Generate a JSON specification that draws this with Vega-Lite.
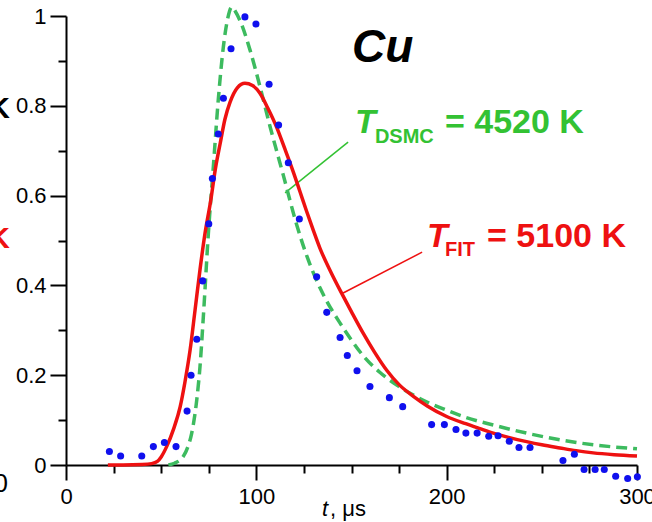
{
  "$schema": "https://vega.github.io/schema/vega-lite/v6.json",
  "autosize": {"type": "none"},
  "padding": {"left": 66, "top": 16, "right": 15, "bottom": 57},
  "width": 571,
  "height": 449,
  "background": "white",
  "config": {
    "view": {"stroke": null},
    "font": "Liberation Sans",
    "axis": {
      "grid": false,
      "domainColor": "black",
      "domainWidth": 2,
      "tickColor": "black",
      "tickWidth": 2,
      "labelColor": "black",
      "labelFont": "Liberation Sans",
      "labelFontSize": 22,
      "title": null
    }
  },
  "datasets": {
    "pts": [
      {"t": 22.8, "v": 0.030}, {"t": 28.7, "v": 0.020}, {"t": 39.8, "v": 0.020}, {"t": 45.9, "v": 0.041},
      {"t": 51.7, "v": 0.050}, {"t": 57.8, "v": 0.041}, {"t": 63.6, "v": 0.120}, {"t": 65.7, "v": 0.200},
      {"t": 68.7, "v": 0.280}, {"t": 71.8, "v": 0.410}, {"t": 75.0, "v": 0.537}, {"t": 76.9, "v": 0.638},
      {"t": 80.0, "v": 0.737}, {"t": 82.7, "v": 0.817}, {"t": 86.7, "v": 0.927}, {"t": 94.0, "v": 0.998},
      {"t": 99.8, "v": 0.982}, {"t": 106.7, "v": 0.848}, {"t": 111.7, "v": 0.757}, {"t": 116.8, "v": 0.673},
      {"t": 122.6, "v": 0.548}, {"t": 131.7, "v": 0.419}, {"t": 137.0, "v": 0.340}, {"t": 144.0, "v": 0.284},
      {"t": 147.8, "v": 0.244}, {"t": 152.9, "v": 0.210}, {"t": 159.7, "v": 0.175}, {"t": 169.9, "v": 0.150},
      {"t": 176.9, "v": 0.130}, {"t": 192.1, "v": 0.090}, {"t": 198.8, "v": 0.090}, {"t": 204.9, "v": 0.079},
      {"t": 210.1, "v": 0.071}, {"t": 216.0, "v": 0.071}, {"t": 222.1, "v": 0.064}, {"t": 227.0, "v": 0.065},
      {"t": 232.9, "v": 0.053}, {"t": 238.0, "v": 0.039}, {"t": 243.8, "v": 0.039}, {"t": 261.1, "v": 0.010},
      {"t": 267.1, "v": 0.024}, {"t": 272.2, "v": -0.010}, {"t": 278.0, "v": -0.010}, {"t": 282.8, "v": -0.010},
      {"t": 288.8, "v": -0.025}, {"t": 295.1, "v": -0.030}, {"t": 300.2, "v": -0.026}
    ],
    "fit": [
      {"t": 22, "v": 0}, {"t": 30, "v": 0}, {"t": 40, "v": 0.001}, {"t": 45, "v": 0.003}, {"t": 48, "v": 0.008},
      {"t": 50, "v": 0.018}, {"t": 53, "v": 0.042}, {"t": 56.5, "v": 0.08}, {"t": 60, "v": 0.13},
      {"t": 62.5, "v": 0.185}, {"t": 65.2, "v": 0.256}, {"t": 67.8, "v": 0.345}, {"t": 70.4, "v": 0.435},
      {"t": 73, "v": 0.515}, {"t": 76, "v": 0.588}, {"t": 78.5, "v": 0.66}, {"t": 81, "v": 0.716},
      {"t": 83.5, "v": 0.77}, {"t": 86.2, "v": 0.808}, {"t": 90, "v": 0.84}, {"t": 94, "v": 0.85},
      {"t": 98, "v": 0.845}, {"t": 101.9, "v": 0.828}, {"t": 106, "v": 0.795}, {"t": 110.7, "v": 0.752},
      {"t": 115, "v": 0.704}, {"t": 119.4, "v": 0.653}, {"t": 123, "v": 0.608}, {"t": 126.5, "v": 0.564},
      {"t": 130, "v": 0.522}, {"t": 133.5, "v": 0.482}, {"t": 139, "v": 0.431}, {"t": 145, "v": 0.381},
      {"t": 150, "v": 0.341}, {"t": 156.2, "v": 0.293}, {"t": 162, "v": 0.252}, {"t": 168.5, "v": 0.211},
      {"t": 175, "v": 0.179}, {"t": 182.5, "v": 0.153}, {"t": 190, "v": 0.131}, {"t": 200, "v": 0.108},
      {"t": 210, "v": 0.092}, {"t": 217.5, "v": 0.081}, {"t": 224.5, "v": 0.071}, {"t": 233, "v": 0.061},
      {"t": 242, "v": 0.052}, {"t": 250, "v": 0.045}, {"t": 259.5, "v": 0.038}, {"t": 268, "v": 0.032},
      {"t": 277, "v": 0.027}, {"t": 288, "v": 0.023}, {"t": 300, "v": 0.02}
    ],
    "dsmc": [
      {"t": 53.8, "v": 0}, {"t": 57, "v": 0.004}, {"t": 61.6, "v": 0.019}, {"t": 64, "v": 0.04},
      {"t": 66, "v": 0.07}, {"t": 68.7, "v": 0.145}, {"t": 70.4, "v": 0.219}, {"t": 72.3, "v": 0.34},
      {"t": 74.8, "v": 0.516}, {"t": 77.4, "v": 0.664}, {"t": 80, "v": 0.813}, {"t": 82.7, "v": 0.932},
      {"t": 85, "v": 0.995}, {"t": 87.1, "v": 1.02}, {"t": 89, "v": 1.01}, {"t": 91.4, "v": 0.99},
      {"t": 96.7, "v": 0.924}, {"t": 101.9, "v": 0.843}, {"t": 107.2, "v": 0.754}, {"t": 114.2, "v": 0.645},
      {"t": 121.2, "v": 0.535}, {"t": 127, "v": 0.46}, {"t": 133.5, "v": 0.394}, {"t": 139, "v": 0.35},
      {"t": 144, "v": 0.316}, {"t": 150, "v": 0.278}, {"t": 156.2, "v": 0.243}, {"t": 165, "v": 0.206},
      {"t": 173.8, "v": 0.178}, {"t": 182, "v": 0.157}, {"t": 191.3, "v": 0.137}, {"t": 200, "v": 0.122},
      {"t": 210, "v": 0.106}, {"t": 224.5, "v": 0.089}, {"t": 242, "v": 0.071}, {"t": 259.5, "v": 0.056},
      {"t": 277, "v": 0.045}, {"t": 300, "v": 0.036}
    ],
    "leaders": [
      {"series": "DSMC", "t": 148.2, "v": 0.719}, {"series": "DSMC", "t": 115.1, "v": 0.606},
      {"series": "FIT", "t": 187.1, "v": 0.474}, {"series": "FIT", "t": 145.6, "v": 0.383}
    ]
  },
  "encoding": {
    "x": {"field": "t", "type": "quantitative"},
    "y": {"field": "v", "type": "quantitative"}
  },
  "layer": [
    {
      "data": {"name": "leaders"},
      "mark": {"type": "line", "strokeWidth": 1.5},
      "encoding": {
        "x": {"field": "t", "type": "quantitative", "scale": {"domain": [0, 300], "nice": false, "zero": false},
          "axis": {
            "values": [0, 25, 50, 75, 100, 125, 150, 175, 200, 225, 250, 275, 300],
            "labelExpr": "datum.value % 100 == 0 ? datum.label : ''",
            "tickSize": {"condition": {"test": "datum.value % 100 == 0", "value": 15}, "value": 8},
            "labelPadding": 6,
            "labelFlush": false,
            "labelOverlap": false
          }},
        "y": {"field": "v", "type": "quantitative", "scale": {"domain": [0, 1], "nice": false, "zero": false},
          "axis": {
            "values": [0, 0.1, 0.2, 0.3, 0.4, 0.5, 0.6, 0.7, 0.8, 0.9, 1],
            "labelExpr": "round(datum.value * 10) % 2 == 0 ? format(datum.value, '~g') : ''",
            "tickSize": {"condition": {"test": "round(datum.value * 10) % 2 == 0", "value": 16}, "value": 8},
            "labelPadding": 4,
            "labelFlush": false,
            "labelOverlap": false
          }},
        "detail": {"field": "series"},
        "color": {"field": "series", "type": "nominal", "scale": {"domain": ["DSMC", "FIT"], "range": ["#33c233", "#ee1111"]}, "legend": null}
      }
    },
    {
      "data": {"name": "dsmc"},
      "mark": {"type": "line", "color": "#3dbb5f", "strokeWidth": 3.5, "strokeDash": [11, 6], "interpolate": "monotone"}
    },
    {
      "data": {"name": "fit"},
      "mark": {"type": "line", "color": "#ee1111", "strokeWidth": 3.5, "interpolate": "monotone"}
    },
    {
      "data": {"name": "pts"},
      "mark": {"type": "circle", "color": "#1010ee", "opacity": 1, "size": 50}
    },
    {
      "data": {"values": [{"t": 150.3, "v": 0.8976, "label": "Cu"}]},
      "mark": {"type": "text", "align": "left", "baseline": "alphabetic", "fontSize": 46, "fontWeight": "bold", "fontStyle": "italic", "color": "black"},
      "encoding": {"text": {"field": "label"}}
    },
    {
      "data": {"values": [{"t": 151.8, "v": 0.7394, "label": "T", "series": "DSMC"}, {"t": 189.7, "v": 0.4855, "label": "T", "series": "FIT"}]},
      "mark": {"type": "text", "align": "left", "baseline": "alphabetic", "fontSize": 34, "fontWeight": "bold", "fontStyle": "italic"},
      "encoding": {"text": {"field": "label"}, "color": {"field": "series", "type": "nominal", "scale": {"domain": ["DSMC", "FIT"], "range": ["#33c233", "#ee1111"]}, "legend": null}}
    },
    {
      "data": {"values": [{"t": 162.3, "v": 0.717, "label": "DSMC", "series": "DSMC"}, {"t": 199.1, "v": 0.4655, "label": "FIT", "series": "FIT"}]},
      "mark": {"type": "text", "align": "left", "baseline": "alphabetic", "fontSize": 20, "fontWeight": "bold"},
      "encoding": {"text": {"field": "label"}, "color": {"field": "series", "type": "nominal", "scale": {"domain": ["DSMC", "FIT"], "range": ["#33c233", "#ee1111"]}, "legend": null}}
    },
    {
      "data": {"values": [{"t": 199.1, "v": 0.7394, "label": "= 4520 K", "series": "DSMC"}, {"t": 221.2, "v": 0.4855, "label": "= 5100 K", "series": "FIT"}]},
      "mark": {"type": "text", "align": "left", "baseline": "alphabetic", "fontSize": 34, "fontWeight": "bold"},
      "encoding": {"text": {"field": "label"}, "color": {"field": "series", "type": "nominal", "scale": {"domain": ["DSMC", "FIT"], "range": ["#33c233", "#ee1111"]}, "legend": null}}
    },
    {
      "data": {"values": [{"t": -29.5, "v": 0.773, "label": "K"}]},
      "mark": {"type": "text", "align": "right", "baseline": "alphabetic", "fontSize": 30, "fontWeight": "bold", "color": "black"},
      "encoding": {"text": {"field": "label"}}
    },
    {
      "data": {"values": [{"t": -29.5, "v": 0.483, "label": "K"}]},
      "mark": {"type": "text", "align": "right", "baseline": "alphabetic", "fontSize": 30, "fontWeight": "bold", "color": "#ee1111"},
      "encoding": {"text": {"field": "label"}}
    },
    {
      "data": {"values": [{"t": -30.5, "v": -0.06, "label": "0"}]},
      "mark": {"type": "text", "align": "right", "baseline": "alphabetic", "fontSize": 26, "color": "black"},
      "encoding": {"text": {"field": "label"}}
    },
    {
      "data": {"values": [{"t": 134.5, "v": -0.1136, "label": "t"}]},
      "mark": {"type": "text", "align": "left", "baseline": "alphabetic", "fontSize": 22, "fontStyle": "italic", "color": "black"},
      "encoding": {"text": {"field": "label"}}
    },
    {
      "data": {"values": [{"t": 138.7, "v": -0.1136, "label": ", μs"}]},
      "mark": {"type": "text", "align": "left", "baseline": "alphabetic", "fontSize": 22, "color": "black"},
      "encoding": {"text": {"field": "label"}}
    }
  ]
}
